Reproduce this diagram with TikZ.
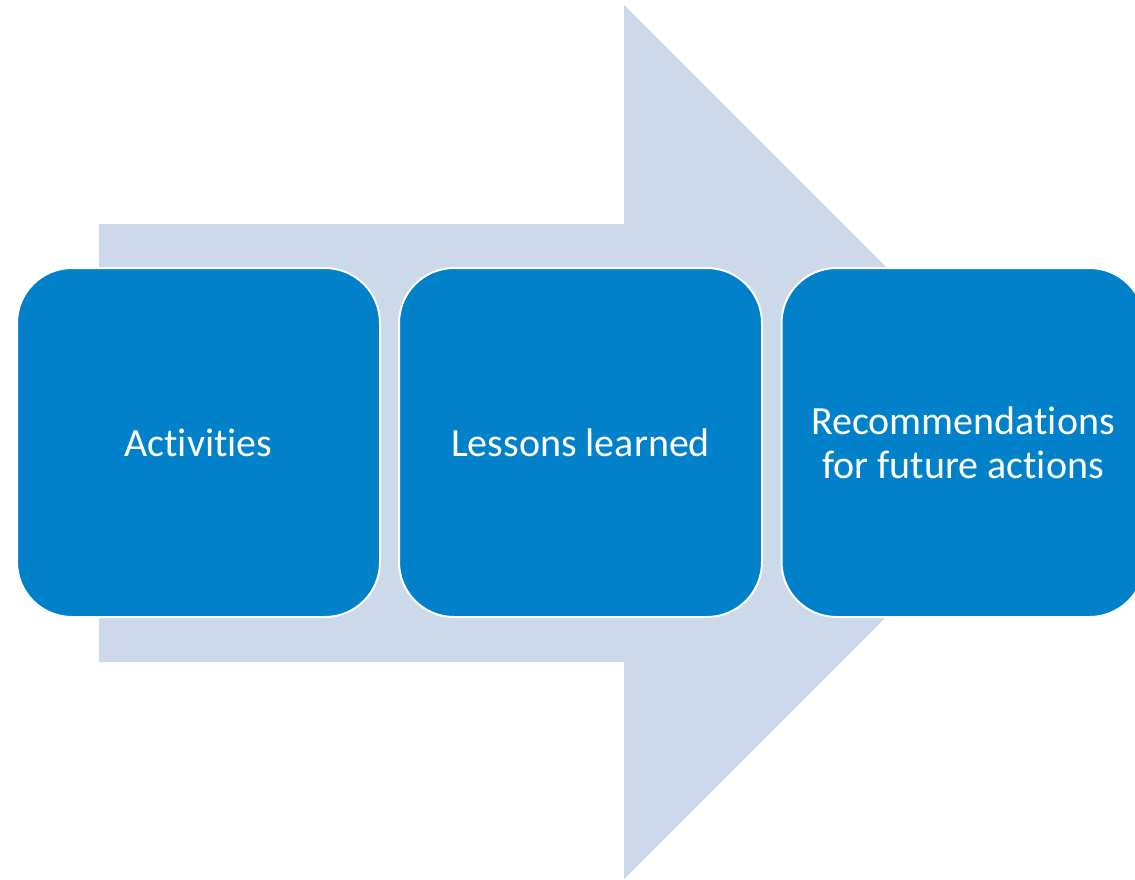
\documentclass[tikz,border=0pt]{standalone}
\usepackage{fontspec}
\setmainfont{Carlito}[Ligatures={NoCommon}]
\definecolor{arrowfill}{RGB}{204,217,235}
\definecolor{boxfill}{RGB}{0,129,201}
\tikzset{
  stagebox/.style={draw=white, line width=2pt, fill=boxfill, rounded corners=55pt,
    minimum width=363pt, minimum height=349pt, inner sep=0pt, text=white,
    align=center, font=\fontsize{40}{44}\selectfont}
}
\begin{document}
\begin{tikzpicture}[x=1pt,y=-1pt]
\useasboundingbox (0,0) rectangle (1135,879);
\clip (0,0) rectangle (1135,879);
\fill[arrowfill] (99,224) -- (624,224) -- (624,5) -- (1061,442) -- (624,879) -- (624,662) -- (99,662) -- cycle;
\node[stagebox] (activities) at (198.5,442.5) {Activities};
\node[stagebox] (lessons) at (580.5,442.5) {Lessons learned};
\node[stagebox] (recommendations) at (963,442.5) {Recommendations\\for future actions};
\end{tikzpicture}
\end{document}
